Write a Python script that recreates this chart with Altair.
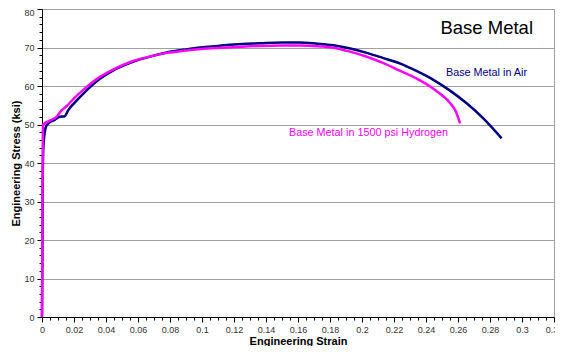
import altair as alt
import pandas as pd

# Base Metal in Air
air_strain = [0, 0.0003, 0.0005, 0.001, 0.0025, 0.004, 0.008, 0.011, 0.014, 0.0165, 0.02,
              0.026, 0.036, 0.046, 0.057, 0.068, 0.078, 0.09, 0.099, 0.11, 0.12, 0.136,
              0.15, 0.161, 0.172, 0.182, 0.192, 0.203, 0.213, 0.224, 0.234, 0.2446,
              0.255, 0.2654, 0.2758, 0.2873]
air_stress = [0, 20, 38, 45, 49.5, 50.3, 51.2, 52.0, 52.1, 53.8, 55.5,
              58.1, 61.8, 64.4, 66.3, 67.7, 68.7, 69.5, 70.0, 70.4, 70.8, 71.1,
              71.3, 71.3, 71.0, 70.6, 69.8, 68.6, 67.3, 65.8, 63.9, 61.6,
              58.8, 55.5, 51.6, 46.4]

# Base Metal in 1500 psi Hydrogen
h2_strain = [0, 0.0002, 0.0004, 0.0006, 0.004, 0.009, 0.0125, 0.0154, 0.02, 0.0258,
             0.036, 0.046, 0.057, 0.068, 0.078, 0.09, 0.099, 0.11, 0.12, 0.136, 0.15,
             0.161, 0.172, 0.182, 0.192, 0.203, 0.213, 0.224, 0.2342, 0.2446, 0.25,
             0.255, 0.2585, 0.2613]
h2_stress = [0, 20, 40, 49.9, 50.8, 52.0, 53.8, 54.8, 56.8, 59.0,
             62.3, 64.6, 66.5, 67.7, 68.6, 69.2, 69.6, 69.9, 70.1, 70.4, 70.5,
             70.5, 70.35, 69.95, 69.0, 67.6, 66.0, 63.9, 61.9, 59.3, 57.6,
             55.6, 53.5, 50.3]

series_names = ["Base Metal in Air", "Base Metal in 1500 psi Hydrogen"]
series_colors = ["#000080", "#FF00FF"]
chart_title = "Base Metal"

x_ticks = [round(i * 0.005, 3) for i in range(0, 65)]
y_ticks = list(range(0, 81, 2))

rows = []
for i, (s, v) in enumerate(zip(air_strain, air_stress)):
    rows.append({"series": series_names[0], "strain": s, "stress": v, "idx": i})
for i, (s, v) in enumerate(zip(h2_strain, h2_stress)):
    rows.append({"series": series_names[1], "strain": s, "stress": v, "idx": i})
df = pd.DataFrame(rows)

xscale = alt.Scale(domain=[0, 0.32], nice=False, zero=True)
yscale = alt.Scale(domain=[0, 80], nice=False)
cscale = alt.Scale(domain=series_names, range=series_colors)

lines = alt.Chart(df).mark_line(strokeWidth=2.5, interpolate="monotone").encode(
    x=alt.X("strain:Q", scale=xscale, title="Engineering Strain",
            axis=alt.Axis(values=x_ticks, format=".2~f",
                          labelExpr="round(datum.value*1000) % 20 == 0 ? datum.label : ''",
                          tickSize={"condition": {"test": "round(datum.value*1000) % 20 == 0", "value": 5}, "value": 3},
                          grid=False, domainColor="#000000", tickColor="#000000",
                          labelColor="#333333", labelFontSize=9, labelPadding=3,
                          titleFontSize=11, titleFontWeight="bold", titlePadding=1,
                          titleColor="#000000", labelFlush=False, labelOverlap=False)),
    y=alt.Y("stress:Q", scale=yscale, title="Engineering Stress (ksi)",
            axis=alt.Axis(values=y_ticks,
                          labelExpr="datum.value % 10 == 0 ? datum.label : ''",
                          labelOffset={"condition": {"test": "datum.value == 80", "value": 3.5}, "value": 0},
                          tickSize={"condition": {"test": "datum.value % 10 == 0", "value": 5}, "value": 3},
                          grid=True, gridColor="#a0a0a0",
                          gridOpacity={"condition": {"test": "datum.value % 10 == 0", "value": 1}, "value": 0},
                          domainColor="#000000", tickColor="#000000",
                          labelColor="#333333", labelFontSize=9, labelPadding=3,
                          titleFontSize=11, titleFontWeight="bold", titlePadding=2,
                          titleColor="#000000", labelFlush=False, labelOverlap=False)),
    color=alt.Color("series:N", scale=cscale, legend=None),
    order="idx:Q",
)

lab_df = pd.DataFrame({"text": series_names, "series": series_names,
                       "px": [404, 247], "py": [64, 124]})
labels = alt.Chart(lab_df).mark_text(align="left", baseline="middle", fontSize=10.8).encode(
    x=alt.X("px:Q", scale=None),
    y=alt.Y("py:Q", scale=None),
    text="text:N",
    color=alt.Color("series:N", scale=cscale, legend=None),
)

title_df = pd.DataFrame({"text": [chart_title]})
title = alt.Chart(title_df).mark_text(align="right", baseline="middle", fontSize=18.5, color="#000000").encode(
    x=alt.value(491),
    y=alt.value(18.5),
    text="text:N",
)

chart = alt.layer(lines, labels, title).properties(
    width=512, height=308,
    autosize=alt.AutoSizeParams(type="none"),
    padding={"left": 34, "top": 1, "right": 1, "bottom": 29},
).configure(
    font="Liberation Sans",
).configure_view(
    stroke="#a0a0a0", strokeWidth=1,
)

chart.save("out.html", embed_options={"renderer": "svg", "actions": False})
